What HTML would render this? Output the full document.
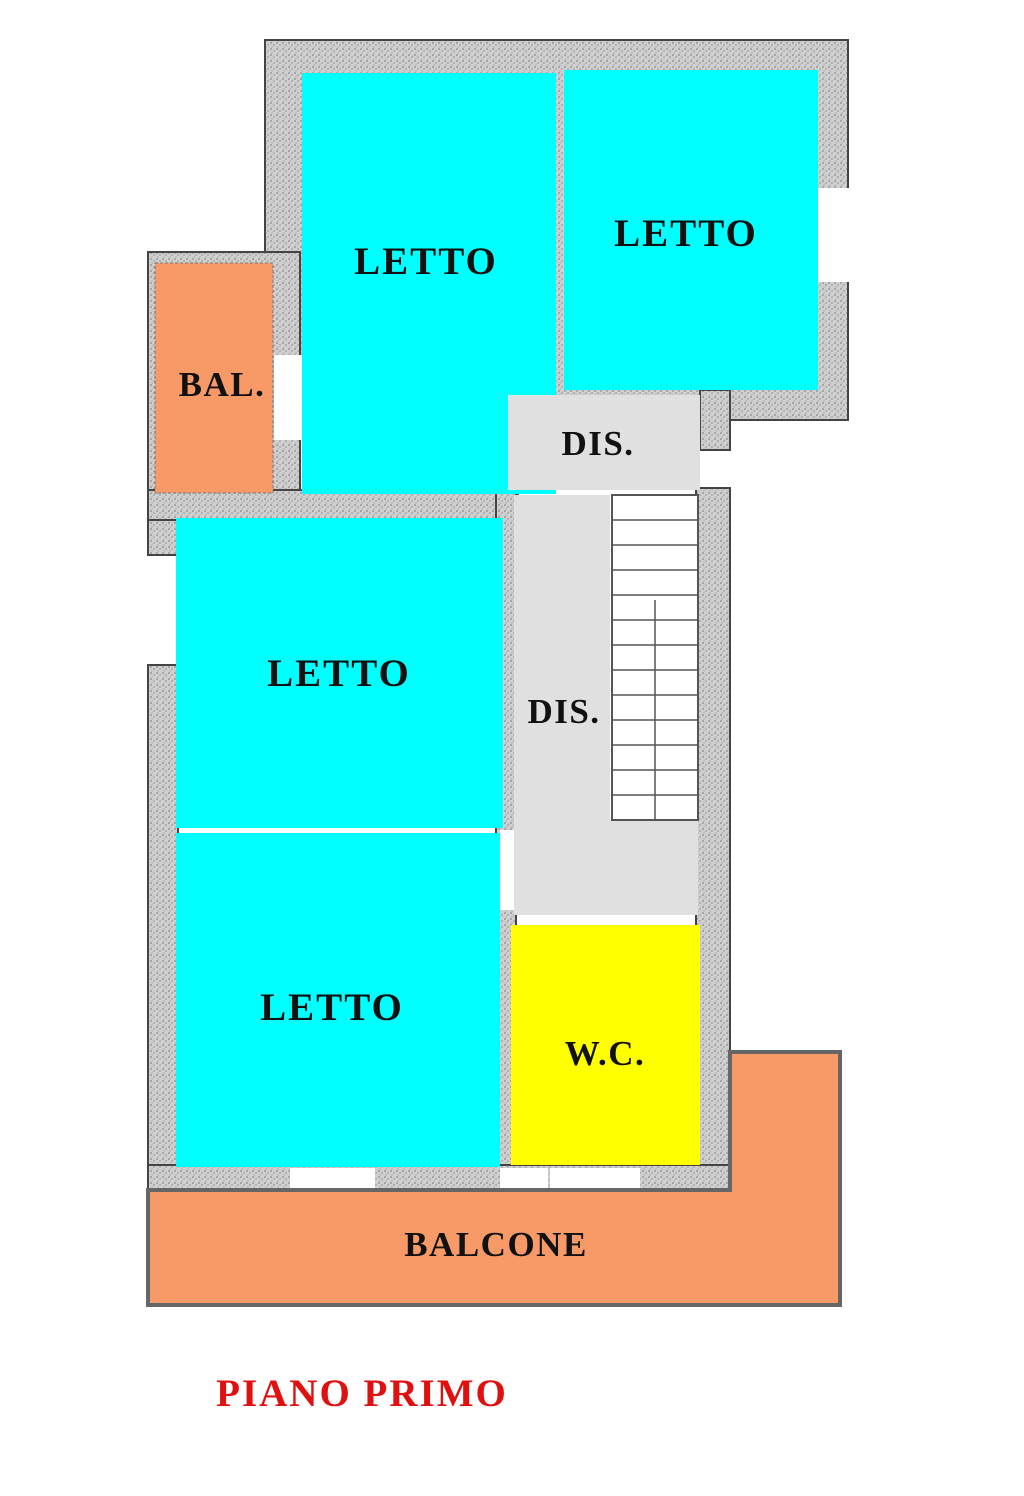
<!DOCTYPE html>
<html><head><meta charset="utf-8"><style>
html,body{margin:0;padding:0;background:#fff;}
svg{display:block}
text{font-family:"Liberation Serif",serif;font-weight:bold;fill:#111;}
</style></head><body>
<svg width="1024" height="1496" viewBox="0 0 1024 1496" xmlns="http://www.w3.org/2000/svg">
<defs>
<pattern id="st" width="6" height="6" patternUnits="userSpaceOnUse">
<rect width="6" height="6" fill="#cfcfcf"/>
<circle cx="1" cy="1" r="0.8" fill="#777"/><circle cx="4" cy="3" r="0.7" fill="#888"/><circle cx="2" cy="5" r="0.6" fill="#999"/>
</pattern>
</defs>
<g fill="url(#st)" stroke="#444" stroke-width="2">
<rect x="265" y="40" width="583" height="380"/>
<rect x="700" y="390" width="30" height="60"/>
<rect x="148" y="252" width="152" height="303"/>
<rect x="148" y="490" width="370" height="30"/>
<rect x="148" y="665" width="30" height="525"/>
<rect x="496" y="490" width="20" height="680"/>
<rect x="696" y="488" width="34" height="702"/>
<rect x="148" y="1165" width="582" height="28"/>
</g>
<g fill="#fff">
<rect x="817" y="188" width="33" height="94"/>
<rect x="274" y="355" width="28" height="85"/>
<rect x="500" y="830" width="14" height="80"/>
<rect x="290" y="1168" width="85" height="22"/>
<rect x="500" y="1168" width="48" height="22"/>
<rect x="550" y="1168" width="90" height="22"/>
</g>
<rect x="302" y="73" width="254" height="421" fill="#00ffff"/>
<rect x="564" y="70" width="254" height="320" fill="#00ffff"/>
<rect x="508" y="395" width="192" height="95" fill="#e0e0e0"/>
<rect x="155" y="263" width="118" height="230" fill="#f79a68" stroke="#777" stroke-dasharray="3,2"/>
<rect x="176" y="518" width="327" height="310" fill="#00ffff"/>
<rect x="176" y="833" width="324" height="334" fill="#00ffff"/>
<rect x="514" y="495" width="96" height="420" fill="#e0e0e0"/>
<rect x="514" y="820" width="184" height="95" fill="#e0e0e0"/>
<rect x="612" y="495" width="86" height="325" fill="#fff" stroke="#555" stroke-width="2"/>
<g stroke="#555" stroke-width="1.5">
<line x1="612" y1="520" x2="698" y2="520"/><line x1="612" y1="545" x2="698" y2="545"/>
<line x1="612" y1="570" x2="698" y2="570"/><line x1="612" y1="595" x2="698" y2="595"/>
<line x1="612" y1="620" x2="698" y2="620"/><line x1="612" y1="645" x2="698" y2="645"/>
<line x1="612" y1="670" x2="698" y2="670"/><line x1="612" y1="695" x2="698" y2="695"/>
<line x1="612" y1="720" x2="698" y2="720"/><line x1="612" y1="745" x2="698" y2="745"/>
<line x1="612" y1="770" x2="698" y2="770"/><line x1="612" y1="795" x2="698" y2="795"/>
<line x1="655" y1="600" x2="655" y2="820"/>
</g>
<rect x="511" y="925" width="189" height="240" fill="#ffff00"/>
<path d="M148,1190 L730,1190 L730,1052 L840,1052 L840,1305 L148,1305 Z" fill="#f79a68" stroke="#666" stroke-width="4"/>
<g font-size="39" text-anchor="middle" letter-spacing="2">
<text x="426" y="274">LETTO</text>
<text x="686" y="246">LETTO</text>
<text x="339" y="686">LETTO</text>
<text x="332" y="1020">LETTO</text>
</g>
<g font-size="35" text-anchor="middle" letter-spacing="1.5">
<text x="222" y="396">BAL.</text>
<text x="598" y="455">DIS.</text>
<text x="564" y="723">DIS.</text>
<text x="605" y="1065">W.C.</text>
<text x="496" y="1256">BALCONE</text>
</g>
<text x="362" y="1406" font-size="39" text-anchor="middle" letter-spacing="2" style="fill:#e01010">PIANO PRIMO</text>
</svg>
</body></html>
